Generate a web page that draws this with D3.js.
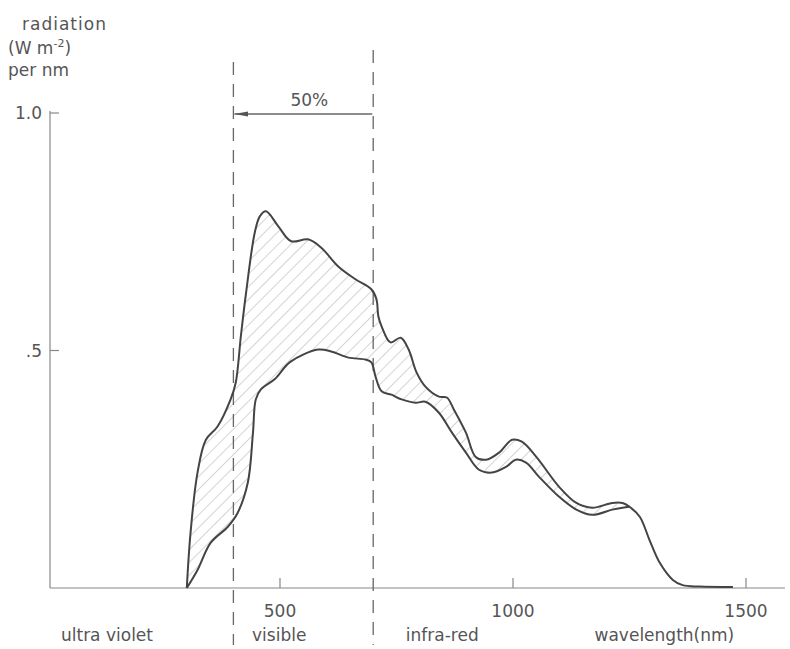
<!DOCTYPE html>
<html>
<head>
<meta charset="utf-8">
<script src="https://cdn.jsdelivr.net/npm/d3@7"></script>
<style>
  body { margin: 0; background: #fff; }
  text { font-family: "DejaVu Sans", sans-serif; fill: #555; }
</style>
</head>
<body>
<div id="plot"></div>
<script>
// wavelength (nm) and radiation (W m-2 per nm)
var upperNm  = [300, 308, 323, 341, 366, 394, 405, 416, 427, 446, 457, 470, 496, 524, 560, 588, 625, 662, 696, 707, 711, 718, 737, 759, 776, 793, 812, 841, 858, 873, 899, 920, 942, 970, 998, 1019, 1050, 1099, 1136, 1170, 1213, 1235, 1250, 1272, 1293, 1315, 1343, 1364, 1400, 1472];
var upperVal = [0, 0.116, 0.243, 0.312, 0.340, 0.397, 0.432, 0.530, 0.620, 0.749, 0.783, 0.793, 0.762, 0.730, 0.734, 0.717, 0.677, 0.650, 0.629, 0.608, 0.572, 0.551, 0.517, 0.527, 0.502, 0.454, 0.424, 0.403, 0.401, 0.376, 0.327, 0.276, 0.270, 0.285, 0.312, 0.308, 0.276, 0.213, 0.179, 0.169, 0.179, 0.179, 0.171, 0.150, 0.101, 0.053, 0.017, 0.006, 0.003, 0.002];
var lowerNm  = [300, 323, 351, 388, 409, 431, 442, 448, 459, 489, 522, 582, 610, 647, 683, 696, 705, 718, 739, 761, 791, 812, 841, 869, 899, 927, 955, 985, 1006, 1028, 1056, 1099, 1136, 1170, 1213, 1235, 1250];
var lowerVal = [0, 0.038, 0.095, 0.129, 0.158, 0.222, 0.327, 0.397, 0.418, 0.440, 0.476, 0.502, 0.498, 0.485, 0.481, 0.475, 0.445, 0.414, 0.407, 0.397, 0.390, 0.392, 0.369, 0.327, 0.285, 0.249, 0.243, 0.255, 0.270, 0.264, 0.234, 0.192, 0.165, 0.154, 0.165, 0.169, 0.171];
var xTicks = [500, 1000, 1500];
var yTicks = [0.5, 1.0];
var yTickLabels = [".5", "1.0"];
var bands = [400, 700];
var bandLabels = [
  {text: "ultra violet", nm: 30},
  {text: "visible", nm: 440},
  {text: "infra-red", nm: 770},
  {text: "wavelength(nm)", nm: 1175}
];

var W = 790, H = 649;
var svg = d3.select("#plot").append("svg")
    .attr("width", W).attr("height", H);

var x = d3.scaleLinear().domain([0, 1000]).range([47, 513]);
var y = d3.scaleLinear().domain([0, 1]).range([588, 113]);
var axisX = 50, axisRight = 785;

var upper = upperNm.map(function(d, i){ return [d, upperVal[i]]; });
var lower = lowerNm.map(function(d, i){ return [d, lowerVal[i]]; });

// hatching
var defs = svg.append("defs");
var pat = defs.append("pattern")
    .attr("id", "hatch")
    .attr("patternUnits", "userSpaceOnUse")
    .attr("width", 9).attr("height", 9)
    .attr("patternTransform", "rotate(45)");
pat.append("line")
    .attr("x1", 0).attr("y1", 0).attr("x2", 0).attr("y2", 9)
    .style("stroke", "#aaa").style("stroke-width", 1);

var line = d3.line()
    .x(function(d){ return x(d[0]); })
    .y(function(d){ return y(d[1]); })
    .curve(d3.curveCatmullRom.alpha(0.5));

var band = line(upper.filter(function(d){ return d[0] <= 1250; })) +
    line(lower.slice().reverse()).replace(/^M/, "L") + "Z";

svg.append("path")
    .attr("d", band)
    .style("fill", "url(#hatch)")
    .style("stroke", "none");

// axes
var g_axis = svg.append("g").style("stroke", "#888").style("stroke-width", 1.2);
g_axis.append("line")
    .attr("x1", axisX).attr("x2", axisRight)
    .attr("y1", y(0)).attr("y2", y(0));
g_axis.append("line")
    .attr("x1", axisX).attr("x2", axisX)
    .attr("y1", y(0)).attr("y2", y(1) - 2);
g_axis.selectAll(".xt")
    .data(xTicks)
    .enter().append("line")
    .attr("x1", function(d){ return x(d); })
    .attr("x2", function(d){ return x(d); })
    .attr("y1", y(0)).attr("y2", y(0) - 10);
g_axis.selectAll(".yt")
    .data(yTicks)
    .enter().append("line")
    .attr("x1", axisX).attr("x2", axisX + 9)
    .attr("y1", function(d){ return y(d); })
    .attr("y2", function(d){ return y(d); });

svg.selectAll(".xl")
    .data(xTicks)
    .enter().append("text")
    .attr("x", function(d){ return x(d); })
    .attr("y", 617)
    .attr("text-anchor", "middle")
    .style("font-size", "17px")
    .text(function(d){ return d; });

svg.selectAll(".yl")
    .data(yTicks)
    .enter().append("text")
    .attr("x", axisX - 8)
    .attr("y", function(d){ return y(d) + 6; })
    .attr("text-anchor", "end")
    .style("font-size", "17px")
    .text(function(d, i){ return yTickLabels[i]; });

// band dividers
svg.selectAll(".band")
    .data(bands)
    .enter().append("line")
    .attr("x1", function(d){ return x(d); })
    .attr("x2", function(d){ return x(d); })
    .attr("y1", function(d, i){ return i === 0 ? 62 : 50; }).attr("y2", 645)
    .style("stroke", "#666").style("stroke-width", 1.3)
    .style("stroke-dasharray", "13,9");

svg.selectAll(".bl")
    .data(bandLabels)
    .enter().append("text")
    .attr("x", function(d){ return x(d.nm); })
    .attr("y", 641)
    .style("font-size", "17px")
    .text(function(d){ return d.text; });

// 50% arrow
defs.append("marker")
    .attr("id", "arrow")
    .attr("viewBox", "0 0 14 6")
    .attr("refX", 0).attr("refY", 3)
    .attr("markerWidth", 14).attr("markerHeight", 6)
    .attr("orient", "auto")
    .attr("markerUnits", "userSpaceOnUse")
    .append("path")
    .attr("d", "M0,3L14,0.5L14,5.5Z")
    .style("fill", "#555");
svg.append("line")
    .attr("x1", x(bands[0]) + 1).attr("x2", x(bands[1]) - 1)
    .attr("y1", 114).attr("y2", 114)
    .attr("marker-start", "url(#arrow)")
    .style("stroke", "#666").style("stroke-width", 1.5);
svg.append("text")
    .attr("x", (x(bands[0]) + x(bands[1])) / 2 + 6)
    .attr("y", 106)
    .attr("text-anchor", "middle")
    .style("font-size", "17px")
    .text("50%");

// curves
svg.append("path")
    .attr("d", line(upper))
    .style("fill", "none").style("stroke", "#444").style("stroke-width", 2);
svg.append("path")
    .attr("d", line(lower))
    .style("fill", "none").style("stroke", "#444").style("stroke-width", 2);

// y label
svg.append("text").attr("x", 22).attr("y", 30)
    .style("font-size", "17px").style("letter-spacing", "1px").text("radiation");
var t2 = svg.append("text").attr("x", 8).attr("y", 54).style("font-size", "17px");
t2.append("tspan").text("(W m");
t2.append("tspan").attr("dy", -7).style("font-size", "11px").text("-2");
t2.append("tspan").attr("dy", 7).text(")");
svg.append("text").attr("x", 8).attr("y", 76).style("font-size", "17px").text("per nm");
</script>
</body>
</html>
